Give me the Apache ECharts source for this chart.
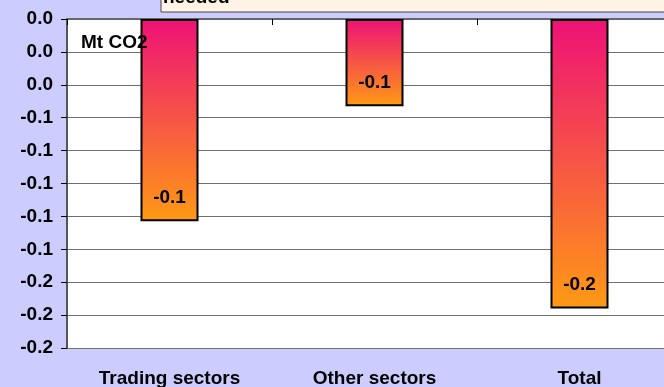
<!DOCTYPE html>
<html>
<head>
<meta charset="utf-8">
<script src="https://cdn.jsdelivr.net/npm/echarts@6/dist/echarts.min.js"></script>
<style>
  html, body { margin: 0; padding: 0; background: #CCCCFF; }
  #chart { width: 664px; height: 387px; }
</style>
</head>
<body>
<div id="chart"></div>
<script>
// Emission change by sector (Mt CO2)
const categories = ['Trading sectors', 'Other sectors', 'Total'];
const changeMt = [-0.123, -0.053, -0.176];
const unitLabel = 'Mt CO2';
const noteText = 'needed';

const FONT = '"Liberation Sans", Arial, sans-serif';
const fmt1 = v => {
  let s = Number(v).toFixed(1);
  if (s === '-0.0') s = '0.0';
  return s;
};

const chart = echarts.init(document.getElementById('chart'), null, { renderer: 'canvas' });

chart.setOption({
  backgroundColor: '#CCCCFF',
  animation: false,
  grid: {
    left: 67, top: 19, right: -18, bottom: 39,
    outerBoundsMode: 'none', containLabel: false,
    backgroundColor: '#FFFFFF', show: true, borderWidth: 0
  },
  xAxis: [
    {
      type: 'category',
      data: categories,
      position: 'bottom',
      axisLine: { show: true, lineStyle: { color: '#666666', width: 2 } },
      axisTick: { show: false },
      axisLabel: { color: '#000', fontFamily: FONT, fontWeight: 'bold', fontSize: 19, margin: 21 }
    },
    {
      type: 'category',
      data: categories,
      position: 'top',
      axisLine: { show: true, lineStyle: { color: '#666666', width: 2 } },
      axisTick: { show: true, inside: true, length: 6, lineStyle: { color: '#000', width: 1 } },
      axisLabel: { show: false }
    }
  ],
  yAxis: {
    type: 'value',
    min: -0.2,
    max: 0,
    interval: 0.02,
    axisLine: { show: true, lineStyle: { color: '#555555', width: 2 } },
    axisTick: { show: true, length: 6, lineStyle: { color: '#000', width: 1 } },
    axisLabel: { color: '#000', fontFamily: FONT, fontWeight: 'bold', fontSize: 19, margin: 14, formatter: fmt1 },
    splitLine: { show: true, lineStyle: { color: '#707070', width: 1 } }
  },
  series: [{
    type: 'bar',
    xAxisIndex: 0,
    data: changeMt,
    barWidth: 58,
    itemStyle: {
      borderColor: '#000',
      borderWidth: 2,
      color: new echarts.graphic.LinearGradient(0, 0, 0, 1, [
        { offset: 0, color: '#EE1177' },
        { offset: 1, color: '#FF9A14' }
      ])
    },
    label: {
      show: true,
      position: 'insideBottom',
      distance: 14,
      color: '#000',
      fontFamily: FONT,
      fontWeight: 'bold',
      fontSize: 19,
      formatter: p => fmt1(p.value)
    }
  }],
  graphic: [
    {
      type: 'text',
      left: 81, top: 33, z: 100,
      style: { text: unitLabel, fill: '#000', font: 'bold 19px ' + FONT }
    },
    {
      type: 'group',
      z: 100,
      children: [
        {
          type: 'rect',
          shape: { x: 161, y: -30, width: 520, height: 42 },
          style: { fill: '#FFF3E6', stroke: '#444444', lineWidth: 1 },
          z: 100
        },
        {
          type: 'text',
          x: 163, y: 7, z: 101,
          style: { text: noteText, fill: '#000', font: 'bold 19px ' + FONT, verticalAlign: 'bottom' }
        }
      ]
    }
  ]
});
</script>
</body>
</html>
